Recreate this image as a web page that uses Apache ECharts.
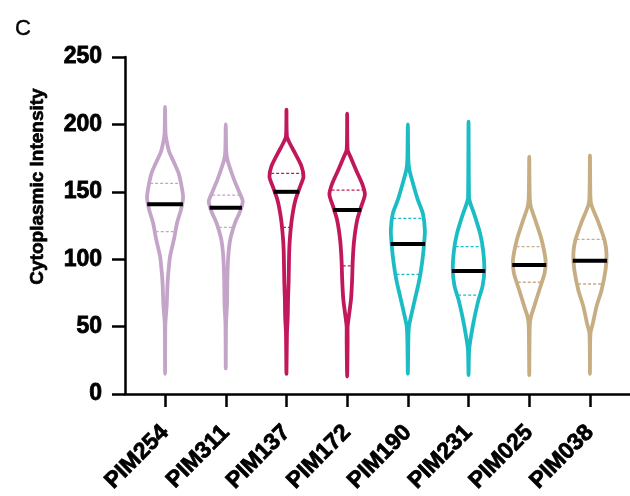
<!DOCTYPE html>
<html>
<head>
<meta charset="utf-8">
<script src="https://cdn.jsdelivr.net/npm/echarts@6/dist/echarts.min.js"></script>
<style>html,body{margin:0;padding:0;background:#fff}#c{width:630px;height:496px}</style>
</head>
<body>
<div id="c"></div>
<script>
// ---- data ----
const categories = ['PIM254','PIM311','PIM137','PIM172','PIM190','PIM231','PIM025','PIM038'];
const yTicks = [0, 50, 100, 150, 200, 250];
// violin outline: intensity levels and half-width (density, in category units)
const violinLevels = [
  [15, 52, 65, 82, 90, 102, 115, 127, 137, 146, 156, 164, 170, 180, 188, 193, 213],
  [19, 52, 67, 85, 102, 115, 127, 135, 143, 150, 159, 166, 174, 180, 200],
  [15, 45, 57, 70, 82, 107, 119, 132, 144, 154, 161, 169, 179, 186, 191, 211],
  [13, 40, 50, 57, 70, 85, 99, 114, 129, 139, 148, 156, 166, 176, 181, 208],
  [15, 40, 50, 57, 70, 85, 99, 112, 122, 134, 144, 154, 166, 174, 200],
  [14, 33, 45, 57, 70, 80, 92, 107, 119, 132, 142, 146, 202],
  [14, 50, 57, 65, 77, 90, 99, 114, 127, 139, 146, 176],
  [15, 45, 52, 65, 77, 92, 104, 114, 127, 140, 146, 177]
];
const violinDensity = [
  [0, .005, .026, .041, .054, .082, .148, .198, .264, .297, .264, .222, .165, .066, .025, .008, 0],
  [0, .005, .021, .026, .041, .076, .153, .231, .280, .219, .137, .082, .026, .008, 0],
  [0, .008, .021, .026, .035, .046, .063, .096, .148, .226, .280, .247, .137, .054, .008, 0],
  [0, .008, .008, .026, .063, .082, .092, .115, .165, .231, .292, .247, .148, .054, .008, 0],
  [0, .008, .018, .049, .115, .191, .239, .269, .280, .247, .165, .099, .026, .008, 0],
  [0, .010, .049, .099, .165, .231, .260, .239, .191, .104, .026, .008, 0],
  [0, .008, .026, .082, .165, .255, .269, .206, .115, .026, .008, 0],
  [0, .008, .046, .109, .191, .257, .273, .241, .142, .026, .008, 0]
];
const medians = [140.7, 138.2, 150.0, 136.5, 111.3, 91.2, 95.7, 98.9];
const q1 = [120.4, 123.6, 123.6, 95.0, 88.8, 73.4, 82.9, 81.6];
const q3 = [156.3, 147.6, 163.7, 151.3, 130.3, 109.3, 109.3, 114.7];

// ---- styles ----
const palette = ['#c4a5c9', '#c4a5c9', '#c1185c', '#c1185c', '#1cbcc4', '#1cbcc4', '#c6ad82', '#c6ad82'];
const FONT = 'Liberation Sans';

function interp(lv, dv, y) {
  for (let k = 0; k < lv.length - 1; k++) {
    if (y >= lv[k] && y <= lv[k + 1]) {
      const t = (y - lv[k]) / (lv[k + 1] - lv[k]);
      return dv[k] + t * (dv[k + 1] - dv[k]);
    }
  }
  return 0;
}

function renderItem(params, api) {
  const i = params.dataIndex;
  const lv = violinLevels[i], dv = violinDensity[i];
  const unit = api.size([1, 0])[0];
  const cx = api.coord([i, 0])[0];
  const color = palette[i];
  const pts = [];
  for (let k = 0; k < lv.length; k++) {
    pts.push([cx + dv[k] * unit, api.coord([i, lv[k]])[1]]);
  }
  for (let k = lv.length - 2; k >= 1; k--) {
    pts.push([cx - dv[k] * unit, api.coord([i, lv[k]])[1]]);
  }
  const children = [{
    type: 'polygon',
    shape: { points: pts, smooth: 0.25 },
    style: { fill: 'none', stroke: color, lineWidth: 3.8, lineJoin: 'round' }
  }];
  [q1[i], q3[i]].forEach(function (qv) {
    const h = interp(lv, dv, qv) * unit - 1;
    const y = api.coord([i, qv])[1];
    children.push({
      type: 'line',
      shape: { x1: cx - h, y1: y, x2: cx + h, y2: y },
      style: { stroke: color, lineWidth: 1.3, lineDash: [3, 2] }
    });
  });
  const hm = interp(lv, dv, medians[i]) * unit + 1;
  const ym = api.coord([i, medians[i]])[1];
  children.push({
    type: 'line',
    shape: { x1: cx - hm, y1: ym, x2: cx + hm, y2: ym },
    style: { stroke: '#000', lineWidth: 4 }
  });
  return { type: 'group', children: children };
}

const chart = echarts.init(document.getElementById('c'), null, { renderer: 'canvas' });
chart.setOption({
  animation: false,
  backgroundColor: '#fff',
  title: {
    text: 'C', left: 10, top: 13,
    textStyle: { fontFamily: FONT, fontSize: 22, fontWeight: 'normal', color: '#000', textBorderColor: '#000', textBorderWidth: 0.4 }
  },
  grid: { left: 125, right: 0, top: 57, bottom: 102 },
  xAxis: {
    type: 'value',
    min: -0.66,
    max: 7.66,
    splitLine: { show: false },
    axisLine: { show: true, onZero: false, lineStyle: { color: '#000', width: 2.5 } },
    axisTick: { show: true, customValues: categories.map((c, i) => i), length: 13, lineStyle: { color: '#000', width: 2.5 } },
    axisLabel: {
      show: true,
      customValues: categories.map((c, i) => i),
      formatter: function (v) { return categories[Math.round(v)]; },
      rotate: 45,
      margin: 35,
      color: '#000',
      fontFamily: FONT,
      fontWeight: 'bold',
      fontSize: 23,
      textBorderColor: '#000',
      textBorderWidth: 0.8
    }
  },
  yAxis: {
    type: 'value',
    min: yTicks[0],
    max: yTicks[yTicks.length - 1],
    interval: 50,
    name: 'Cytoplasmic Intensity',
    nameLocation: 'middle',
    nameGap: 78,
    nameTextStyle: { fontFamily: FONT, fontSize: 19, fontWeight: 'bold', color: '#000', padding: [0, 0, 0, 78], textBorderColor: '#000', textBorderWidth: 0.7 },
    splitLine: { show: false },
    axisLine: { show: true, onZero: false, lineStyle: { color: '#000', width: 2.5 } },
    axisTick: { show: true, length: 13, lineStyle: { color: '#000', width: 2.5 } },
    axisLabel: { color: '#000', fontFamily: FONT, fontWeight: 'bold', fontSize: 23, margin: 23, textBorderColor: '#000', textBorderWidth: 0.8 }
  },
  series: [{
    type: 'custom',
    renderItem: renderItem,
    encode: { x: 0, y: 1 },
    data: categories.map((c, i) => [i, medians[i]]),
    clip: false
  }]
});
</script>
</body>
</html>
